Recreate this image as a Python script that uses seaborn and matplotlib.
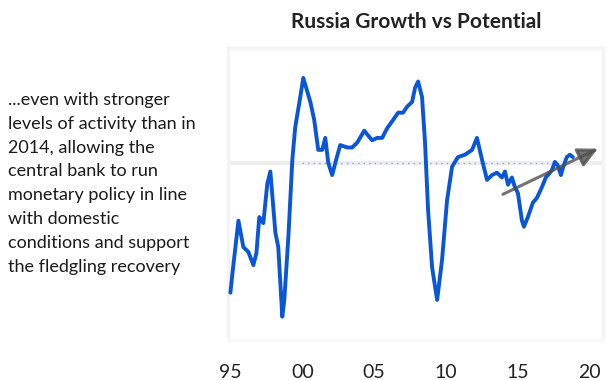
import matplotlib
matplotlib.use("Agg")
import matplotlib.pyplot as plt
import seaborn as sns
import pandas as pd

# Real GDP growth (% y/y) by quarter, with potential growth as the reference level
years = [1995.0, 1995.14, 1995.56, 1995.9, 1996.25, 1996.6, 1996.81, 1997.01, 1997.29, 1997.57,
         1997.78, 1998.13, 1998.33, 1998.61, 1998.75, 1999.03, 1999.31, 1999.51, 1999.86, 2000.07,
         2000.56, 2000.83, 2001.11, 2001.39, 2001.6, 2001.81, 2002.08, 2002.36, 2002.64, 2003.13,
         2003.47, 2003.82, 2004.31, 2004.58, 2004.86, 2005.21, 2005.56, 2005.9, 2006.32, 2006.67,
         2007.01, 2007.29, 2007.64, 2007.85, 2008.06, 2008.33, 2008.54, 2008.75, 2009.03, 2009.38,
         2009.72, 2010.07, 2010.42, 2010.83, 2011.32, 2011.81, 2012.15, 2012.5, 2012.85, 2013.19,
         2013.54, 2013.89, 2014.1, 2014.31, 2014.58, 2014.79, 2015.0, 2015.28, 2015.42, 2015.69,
         2016.04, 2016.32, 2016.67, 2016.94, 2017.36, 2017.57, 2017.78, 2017.99, 2018.13, 2018.4,
         2018.61, 2018.82]
growth = [-8.8, -7.2, -2.8, -5.0, -5.4, -6.5, -5.5, -2.5, -3.0, 0.3,
          1.3, -3.8, -5.0, -10.8, -9.4, -4.2, 2.3, 5.0, 7.5, 9.1,
          7.1, 5.6, 3.1, 3.1, 4.1, 2.0, 1.0, 2.3, 3.5, 3.3,
          3.3, 3.7, 4.7, 4.3, 3.9, 4.1, 4.1, 4.9, 5.6, 6.2,
          6.2, 6.7, 7.1, 8.3, 8.8, 7.5, 3.7, -1.9, -6.7, -9.4,
          -6.1, -1.1, 1.7, 2.5, 2.7, 3.1, 4.1, 2.3, 0.6, 1.0,
          1.2, 0.8, 1.3, 0.2, 0.8, 0.0, -0.5, -2.8, -3.3, -2.5,
          -1.3, -0.9, 0.0, 0.8, 1.4, 2.1, 1.8, 1.0, 1.6, 2.5,
          2.7, 2.5]
potential = 2.0
tick_years = [1995, 2000, 2005, 2010, 2015, 2020]
tick_labels = ["95", "00", "05", "10", "15", "20"]
trend_start = (2013.96, -0.6)
trend_end = (2020.56, 3.2)

note = ("...even with stronger\nlevels of activity than in\n2014, allowing the\n"
        "central bank to run\nmonetary policy in line\nwith domestic\n"
        "conditions and support\nthe fledgling recovery")

sns.set_theme(style="white")
plt.rcParams["font.family"] = ["Lato", "DejaVu Sans"]

df = pd.DataFrame({"year": years, "growth": growth})

fig = plt.figure(figsize=(6.07, 3.8), dpi=100)
ax = fig.add_axes([0.376, 0.105, 0.617, 0.769])

# potential growth reference: faint band plus a sparse dotted line
ax.axhline(potential, color="#ededed", lw=3, zorder=1)
ax.plot([2000.0, 2017.2], [potential, potential], color="#7fa3e6", lw=1.0,
        linestyle=(0, (1, 3)), zorder=2)

sns.lineplot(data=df, x="year", y="growth", ax=ax, color="#0a56d6", lw=2.8, zorder=3)

ax.annotate("", xy=trend_end, xytext=trend_start,
            arrowprops=dict(arrowstyle="-|>,head_length=1.0,head_width=0.5",
                            color="#505050", lw=2.2, alpha=0.8, shrinkA=0, shrinkB=0),
            zorder=4)

ax.set_xlim(1994.85, 2020.9)
ax.set_ylim(-12.75, 11.6)
ax.set_xticks(tick_years)
ax.set_xticklabels(tick_labels)
ax.set_yticks([])
ax.set_xlabel("")
ax.set_ylabel("")
ax.tick_params(axis="x", length=0, pad=17, labelsize=14, labelcolor="#222222")
for side, spine in ax.spines.items():
    spine.set_color("#f4f4f4")
    spine.set_linewidth(2.5)
ax.spines["bottom"].set_color("#f9f9f9")

fig.text(0.685, 0.942, "Russia Growth vs Potential", ha="center", va="center",
         fontsize=15, fontweight="bold", color="#222222")
fig.text(0.013, 0.758, note, ha="left", va="top", fontsize=13,
         color="#1a1a1a", linespacing=1.6)

fig.savefig("out.png", dpi=100)
